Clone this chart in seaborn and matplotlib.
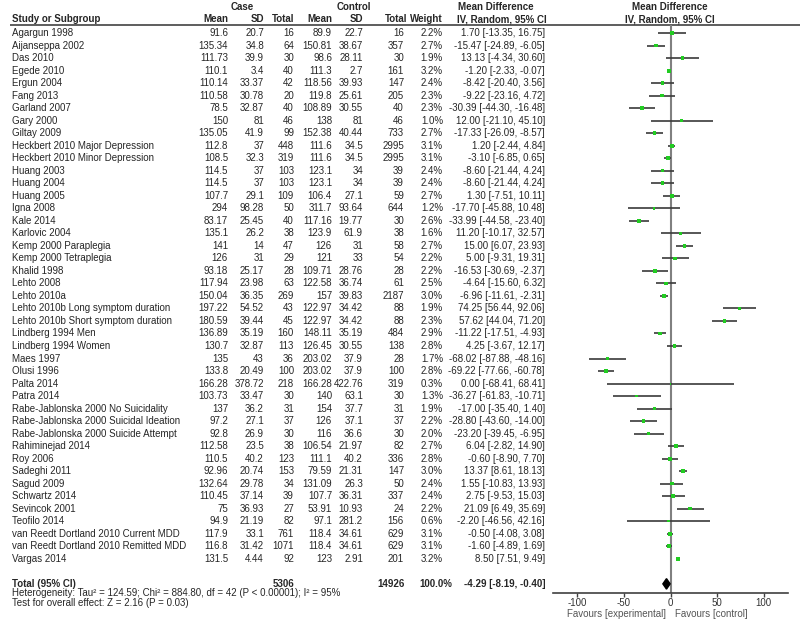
import numpy as np
import pandas as pd
import matplotlib
matplotlib.use('Agg')
import matplotlib.pyplot as plt
import seaborn as sns

# data
studies = ['Agargun 1998', 'Aijanseppa 2002', 'Das 2010', 'Egede 2010', 'Ergun 2004', 'Fang 2013',
           'Garland 2007', 'Gary 2000', 'Giltay 2009', 'Heckbert 2010 Major Depression',
           'Heckbert 2010 Minor Depression', 'Huang 2003', 'Huang 2004', 'Huang 2005', 'Igna 2008',
           'Kale 2014', 'Karlovic 2004', 'Kemp 2000 Paraplegia', 'Kemp 2000 Tetraplegia', 'Khalid 1998',
           'Lehto 2008', 'Lehto 2010a', 'Lehto 2010b Long symptom duration',
           'Lehto 2010b Short symptom duration', 'Lindberg 1994 Men', 'Lindberg 1994 Women', 'Maes 1997',
           'Olusi 1996', 'Palta 2014', 'Patra 2014', 'Rabe-Jablonska 2000 No Suicidality',
           'Rabe-Jablonska 2000 Suicidal Ideation', 'Rabe-Jablonska 2000 Suicide Attempt',
           'Rahiminejad 2014', 'Roy 2006', 'Sadeghi 2011', 'Sagud 2009', 'Schwartz 2014', 'Sevincok 2001',
           'Teofilo 2014', 'van Reedt Dortland 2010 Current MDD', 'van Reedt Dortland 2010 Remitted MDD',
           'Vargas 2014']
case_mean = [91.6, 135.34, 111.73, 110.1, 110.14, 110.58, 78.5, 150, 135.05, 112.8, 108.5, 114.5, 114.5,
             107.7, 294, 83.17, 135.1, 141, 126, 93.18, 117.94, 150.04, 197.22, 180.59, 136.89, 130.7, 135,
             133.8, 166.28, 103.73, 137, 97.2, 92.8, 112.58, 110.5, 92.96, 132.64, 110.45, 75, 94.9, 117.9,
             116.8, 131.5]
case_sd = [20.7, 34.8, 39.9, 3.4, 33.37, 30.78, 32.87, 81, 41.9, 37, 32.3, 37, 37, 29.1, 98.28, 25.45, 26.2,
           14, 31, 25.17, 23.98, 36.35, 54.52, 39.44, 35.19, 32.87, 43, 20.49, 378.72, 33.47, 36.2, 27.1,
           26.9, 23.5, 40.2, 20.74, 29.78, 37.14, 36.93, 21.19, 33.1, 31.42, 4.44]
case_n = [16, 64, 30, 40, 42, 20, 40, 46, 99, 448, 319, 103, 103, 109, 50, 40, 38, 47, 29, 28, 63, 269, 43,
          45, 160, 113, 36, 100, 218, 30, 31, 37, 30, 38, 123, 153, 34, 39, 27, 82, 761, 1071, 92]
ctrl_mean = [89.9, 150.81, 98.6, 111.3, 118.56, 119.8, 108.89, 138, 152.38, 111.6, 111.6, 123.1, 123.1,
             106.4, 311.7, 117.16, 123.9, 126, 121, 109.71, 122.58, 157, 122.97, 122.97, 148.11, 126.45,
             203.02, 203.02, 166.28, 140, 154, 126, 116, 106.54, 111.1, 79.59, 131.09, 107.7, 53.91, 97.1,
             118.4, 118.4, 123]
ctrl_sd = [22.7, 38.67, 28.11, 2.7, 39.93, 25.61, 30.55, 81, 40.44, 34.5, 34.5, 34, 34, 27.1, 93.64, 19.77,
           61.9, 31, 33, 28.76, 36.74, 39.83, 34.42, 34.42, 35.19, 30.55, 37.9, 37.9, 422.76, 63.1, 37.7,
           37.1, 36.6, 21.97, 40.2, 21.31, 26.3, 36.31, 10.93, 281.2, 34.61, 34.61, 2.91]
ctrl_n = [16, 357, 30, 161, 147, 205, 40, 46, 733, 2995, 2995, 39, 39, 59, 644, 30, 38, 58, 54, 28, 61, 2187,
          88, 88, 484, 138, 28, 100, 319, 30, 31, 37, 30, 82, 336, 147, 50, 337, 24, 156, 629, 629, 201]
weight = [2.2, 2.7, 1.9, 3.2, 2.4, 2.3, 2.3, 1.0, 2.7, 3.1, 3.1, 2.4, 2.4, 2.7, 1.2, 2.6, 1.6, 2.7, 2.2, 2.2,
          2.5, 3.0, 1.9, 2.3, 2.9, 2.8, 1.7, 2.8, 0.3, 1.3, 1.9, 2.2, 2.0, 2.7, 2.8, 3.0, 2.4, 2.4, 2.2, 0.6,
          3.1, 3.1, 3.2]
md = [1.70, -15.47, 13.13, -1.20, -8.42, -9.22, -30.39, 12.00, -17.33, 1.20, -3.10, -8.60, -8.60, 1.30,
      -17.70, -33.99, 11.20, 15.00, 5.00, -16.53, -4.64, -6.96, 74.25, 57.62, -11.22, 4.25, -68.02, -69.22,
      0.00, -36.27, -17.00, -28.80, -23.20, 6.04, -0.60, 13.37, 1.55, 2.75, 21.09, -2.20, -0.50, -1.60, 8.50]
ci_low = [-13.35, -24.89, -4.34, -2.33, -20.40, -23.16, -44.30, -21.10, -26.09, -2.44, -6.85, -21.44, -21.44,
          -7.51, -45.88, -44.58, -10.17, 6.07, -9.31, -30.69, -15.60, -11.61, 56.44, 44.04, -17.51, -3.67,
          -87.88, -77.66, -68.41, -61.83, -35.40, -43.60, -39.45, -2.82, -8.90, 8.61, -10.83, -9.53, 6.49,
          -46.56, -4.08, -4.89, 7.51]
ci_high = [16.75, -6.05, 30.60, -0.07, 3.56, 4.72, -16.48, 45.10, -8.57, 4.84, 0.65, 4.24, 4.24, 10.11,
           10.48, -23.40, 32.57, 23.93, 19.31, -2.37, 6.32, -2.31, 92.06, 71.20, -4.93, 12.17, -48.16, -60.78,
           68.41, -10.71, 1.40, -14.00, -6.95, 14.90, 7.70, 18.13, 13.93, 15.03, 35.69, 42.16, 3.08, 1.69, 9.49]

total_case_n = 5306
total_ctrl_n = 14926
total_md, total_low, total_high = -4.29, -8.19, -0.40
heterogeneity = 'Heterogeneity: Tau\u00b2 = 124.59; Chi\u00b2 = 884.80, df = 42 (P < 0.00001); I\u00b2 = 95%'
overall_test = 'Test for overall effect: Z = 2.16 (P = 0.03)'
xticks = [-100, -50, 0, 50, 100]

df = pd.DataFrame({'study': studies, 'md': md, 'low': ci_low, 'high': ci_high, 'weight': weight})
df['row'] = np.arange(len(df))
total_row = len(df) + 1

sns.set_style('white')
plt.rcParams['font.family'] = ['Liberation Sans', 'DejaVu Sans']
fs = 7

W, H = 800, 621
fig = plt.figure(figsize=(W / 100, H / 100), dpi=100)

# pixel -> row helpers (row pitch ~12.52 px, first row at 33 px)
y0, pitch = 33.0, 12.52
def px2row(p):
    return (p - y0) / pitch

# table axis spanning the whole figure: x in pixels, y in row units
tab = fig.add_axes([0, 0, 1, 1])
tab.set_xlim(0, W)
tab.set_ylim(px2row(H), px2row(0))
tab.axis('off')

# forest axis
fx0, fx1, fy0, fy1 = 553, 788, 25, 593
ax = fig.add_axes([fx0 / W, 1 - fy1 / H, (fx1 - fx0) / W, (fy1 - fy0) / H])
ax.set_xlim(-126, 126)
ax.set_ylim(px2row(fy1), px2row(fy0))
ax.patch.set_alpha(0)

# headers
hr1, hr2 = px2row(7), px2row(19)
tab.text(242, hr1, 'Case', ha='center', va='center', fontsize=fs, fontweight='bold')
tab.text(354, hr1, 'Control', ha='center', va='center', fontsize=fs, fontweight='bold')
tab.text(496, hr1, 'Mean Difference', ha='center', va='center', fontsize=fs, fontweight='bold')
tab.text(502, hr2, 'IV, Random, 95% CI', ha='center', va='center', fontsize=fs, fontweight='bold')
tab.text(670, hr1, 'Mean Difference', ha='center', va='center', fontsize=fs, fontweight='bold')
tab.text(670, hr2, 'IV, Random, 95% CI', ha='center', va='center', fontsize=fs, fontweight='bold')
tab.text(12, hr2, 'Study or Subgroup', ha='left', va='center', fontsize=fs, fontweight='bold')
for x, lab in [(228, 'Mean'), (264, 'SD'), (294, 'Total'), (332, 'Mean'), (363, 'SD'), (407, 'Total'),
               (443, 'Weight')]:
    tab.text(x, hr2, lab, ha='right', va='center', fontsize=fs, fontweight='bold')
tab.plot([10, W], [px2row(25), px2row(25)], color='#505050', lw=1.3, solid_capstyle='butt')

# study rows
cols = [(228, case_mean), (264, case_sd), (294, case_n), (332, ctrl_mean), (363, ctrl_sd), (404, ctrl_n)]
for i, r in df.iterrows():
    tab.text(12, r['row'], r['study'], ha='left', va='center', fontsize=fs)
    for x, vals in cols:
        tab.text(x, r['row'], f'{vals[i]:g}', ha='right', va='center', fontsize=fs)
    tab.text(443, r['row'], f"{r['weight']:.1f}%", ha='right', va='center', fontsize=fs)
    tab.text(545, r['row'], f"{r['md']:.2f} [{r['low']:.2f}, {r['high']:.2f}]",
             ha='right', va='center', fontsize=fs)

# total row
tab.text(12, total_row, 'Total (95% CI)', ha='left', va='center', fontsize=fs, fontweight='bold')
tab.text(294, total_row, f'{total_case_n}', ha='right', va='center', fontsize=fs, fontweight='bold')
tab.text(405, total_row, f'{total_ctrl_n}', ha='right', va='center', fontsize=fs, fontweight='bold')
tab.text(452, total_row, '100.0%', ha='right', va='center', fontsize=fs, fontweight='bold')
tab.text(545, total_row, f'{total_md:.2f} [{total_low:.2f}, {total_high:.2f}]',
         ha='right', va='center', fontsize=fs, fontweight='bold')
tab.text(12, px2row(593.5), heterogeneity, ha='left', va='center', fontsize=fs)
tab.text(12, px2row(603.5), overall_test, ha='left', va='center', fontsize=fs)
tab.text(666, px2row(614), 'Favours [experimental]', ha='right', va='center', fontsize=fs, color='#555555')
tab.text(675, px2row(614), 'Favours [control]', ha='left', va='center', fontsize=fs, color='#555555')

# forest marks
ax.axvline(0, color='#808080', lw=1.5, zorder=1)
ax.hlines(df['row'], df['low'], df['high'], color='#3a3a3a', lw=1.2, zorder=2)
sns.scatterplot(data=df, x='md', y='row', size='weight', sizes=(2, 8), marker='s', color='#22cc22',
                linewidth=0, legend=False, ax=ax, zorder=3)
ax.fill([total_low, total_md, total_high, total_md],
        [total_row, total_row - 0.42, total_row, total_row + 0.42], color='black', zorder=4)

ax.set_xticks(xticks)
ax.set_xticklabels([str(t) for t in xticks], fontsize=7, color='#333333')
ax.set_yticks([])
ax.set_xlabel('')
ax.set_ylabel('')
for s in ['top', 'left', 'right']:
    ax.spines[s].set_visible(False)
ax.spines['bottom'].set_color('#404040')
ax.spines['bottom'].set_linewidth(1.2)
ax.tick_params(axis='x', direction='out', length=3, width=1, color='#404040', pad=0.5, bottom=True)

fig.savefig('out.png', dpi=100)
